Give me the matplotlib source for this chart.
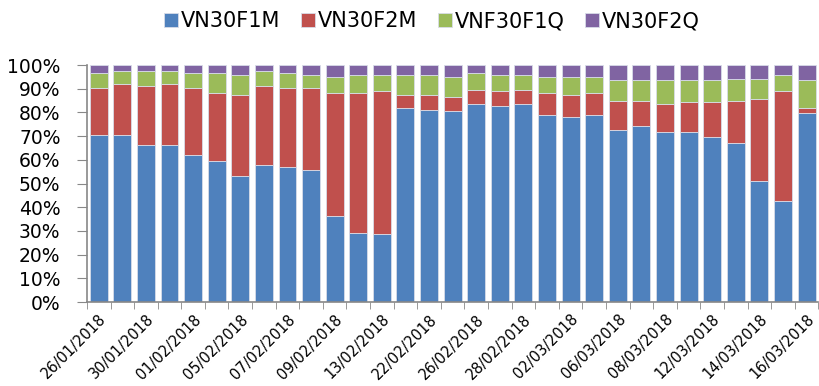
import matplotlib
matplotlib.use("Agg")
import matplotlib.pyplot as plt
import numpy as np
from matplotlib.ticker import PercentFormatter

dates = ["26/01/2018", "", "30/01/2018", "", "01/02/2018", "", "05/02/2018", "",
         "07/02/2018", "", "09/02/2018", "", "13/02/2018", "", "22/02/2018", "",
         "26/02/2018", "", "28/02/2018", "", "02/03/2018", "", "06/03/2018", "",
         "08/03/2018", "", "12/03/2018", "", "14/03/2018", "", "16/03/2018"]

# cumulative tops (percent)
blue_top = [70.3, 70.3, 66.4, 66.4, 61.9, 59.5, 53.3, 57.8, 57.1, 55.6,
            36.2, 29.3, 28.6, 81.9, 81.2, 80.5, 83.4, 82.6, 83.4, 78.8,
            77.9, 78.8, 72.6, 74.1, 71.9, 71.9, 69.5, 67.1, 50.9, 42.5, 79.6]
red_top = [90.4, 91.8, 91.1, 91.8, 90.4, 88.1, 87.2, 91.1, 90.4, 90.4,
           88.1, 88.1, 88.9, 87.2, 87.2, 86.5, 89.6, 88.9, 89.6, 88.1,
           87.2, 88.1, 85.0, 85.0, 83.4, 84.2, 84.2, 85.0, 85.7, 88.9, 81.9]
green_top = [96.7, 97.5, 97.5, 97.5, 96.7, 96.7, 95.8, 97.5, 96.7, 95.8,
             95.1, 95.8, 95.8, 95.8, 95.8, 95.1, 96.6, 95.8, 95.8, 95.1,
             95.1, 95.1, 93.5, 93.5, 93.5, 93.5, 93.5, 94.2, 94.2, 95.8, 93.5]

vn30f1m = np.array(blue_top)
vn30f2m = np.array(red_top) - np.array(blue_top)
vnf30f1q = np.array(green_top) - np.array(red_top)
vn30f2q = 100 - np.array(green_top)

series = [("VN30F1M", vn30f1m, "#4F81BD"),
          ("VN30F2M", vn30f2m, "#C0504D"),
          ("VNF30F1Q", vnf30f1q, "#9BBB59"),
          ("VN30F2Q", vn30f2q, "#8064A2")]

fig = plt.figure(figsize=(8.2, 3.86), dpi=100)
ax = fig.add_axes([0.106, 0.2176, 0.892, 0.614])
x = np.arange(len(dates))
bottom = np.zeros(len(dates))
for name, vals, col in series:
    ax.bar(x, vals, bottom=bottom, width=0.76, color=col, edgecolor="#d8dce8",
           linewidth=0.6, label=name)
    bottom += vals

ax.set_xlim(-0.5, len(dates) - 0.5)
ax.set_ylim(0, 100)
ax.set_yticks(np.arange(0, 101, 10))
ax.yaxis.set_major_formatter(PercentFormatter(decimals=0))
ax.tick_params(axis="y", labelsize=13.5, length=7, color="#888888", pad=12)

lab_idx = [i for i, d in enumerate(dates) if d]
ax.set_xticks(lab_idx)
ax.set_xticklabels([dates[i] for i in lab_idx], rotation=45, ha="right",
                   rotation_mode="anchor", fontsize=10.5)
ax.tick_params(axis="x", which="major", length=0, pad=7)
ax.set_xticks(np.arange(-0.5, len(dates), 1), minor=True)
ax.tick_params(axis="x", which="minor", length=5, color="#888888")

for s in ["top", "right"]:
    ax.spines[s].set_visible(False)
for s in ["left", "bottom"]:
    ax.spines[s].set_color("#888888")
    ax.spines[s].set_linewidth(1.2)

handles, labels = ax.get_legend_handles_labels()
fig.legend(handles, labels, loc="center", bbox_to_anchor=(0.527, 0.945), ncol=4,
           frameon=False, fontsize=15, handlelength=0.65, handleheight=0.65,
           handletextpad=0.15, columnspacing=1.0, borderaxespad=0)

fig.savefig("out.png", dpi=100)
